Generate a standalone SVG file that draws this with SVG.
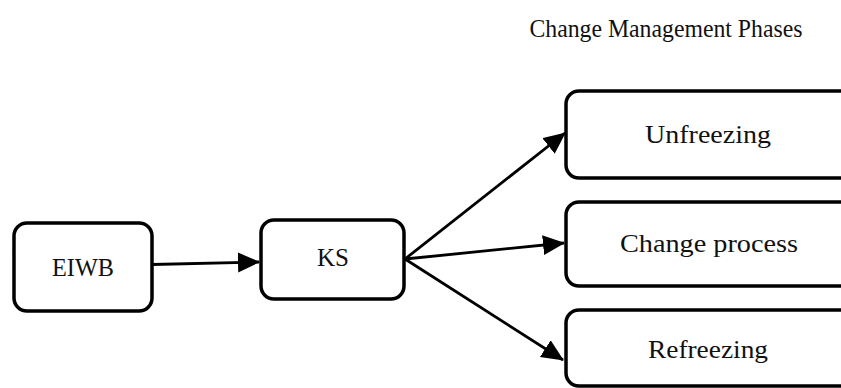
<svg xmlns="http://www.w3.org/2000/svg" width="841" height="388" viewBox="0 0 841 388">
<style>
.box{fill:#fff;stroke:#000;stroke-width:3.5}
.lbl{font-family:"Liberation Serif",serif;font-size:25px;fill:#111;text-anchor:middle}
.conn{stroke:#000;stroke-width:2.8;fill:none;marker-end:url(#ah)}
</style>
<defs>
<marker id="ah" markerUnits="userSpaceOnUse" markerWidth="24" markerHeight="22" refX="21" refY="10" orient="auto" viewBox="0 0 24 22">
<path d="M0,0 L22,10 L0,20 z" fill="#000"/>
</marker>
</defs>
<rect width="841" height="388" fill="#fff"/>
<text class="lbl" x="666" y="37" textLength="273" lengthAdjust="spacingAndGlyphs">Change Management Phases</text>
<g id="eiwb"><rect class="box" x="14" y="223" width="138" height="88" rx="13"/><text class="lbl" x="83" y="276" textLength="62" lengthAdjust="spacingAndGlyphs">EIWB</text></g>
<g id="ks"><rect class="box" x="261" y="220" width="143" height="79" rx="13"/><text class="lbl" x="333" y="266" textLength="32" lengthAdjust="spacingAndGlyphs">KS</text></g>
<g id="unfreezing"><rect class="box" x="566" y="91" width="290" height="87" rx="13"/><text class="lbl" x="708" y="143" textLength="126" lengthAdjust="spacingAndGlyphs">Unfreezing</text></g>
<g id="change"><rect class="box" x="566" y="202" width="290" height="84" rx="13"/><text class="lbl" x="709" y="252" textLength="178" lengthAdjust="spacingAndGlyphs">Change process</text></g>
<g id="refreezing"><rect class="box" x="566" y="310" width="290" height="76" rx="13"/><text class="lbl" x="708" y="358" textLength="120" lengthAdjust="spacingAndGlyphs">Refreezing</text></g>
<g id="connectors">
<line class="conn" x1="152" y1="264.5" x2="259" y2="262"/>
<line class="conn" x1="405" y1="259" x2="565" y2="133"/>
<line class="conn" x1="405" y1="259" x2="564" y2="243"/>
<line class="conn" x1="405" y1="259" x2="563" y2="360"/>
</g>
</svg>
